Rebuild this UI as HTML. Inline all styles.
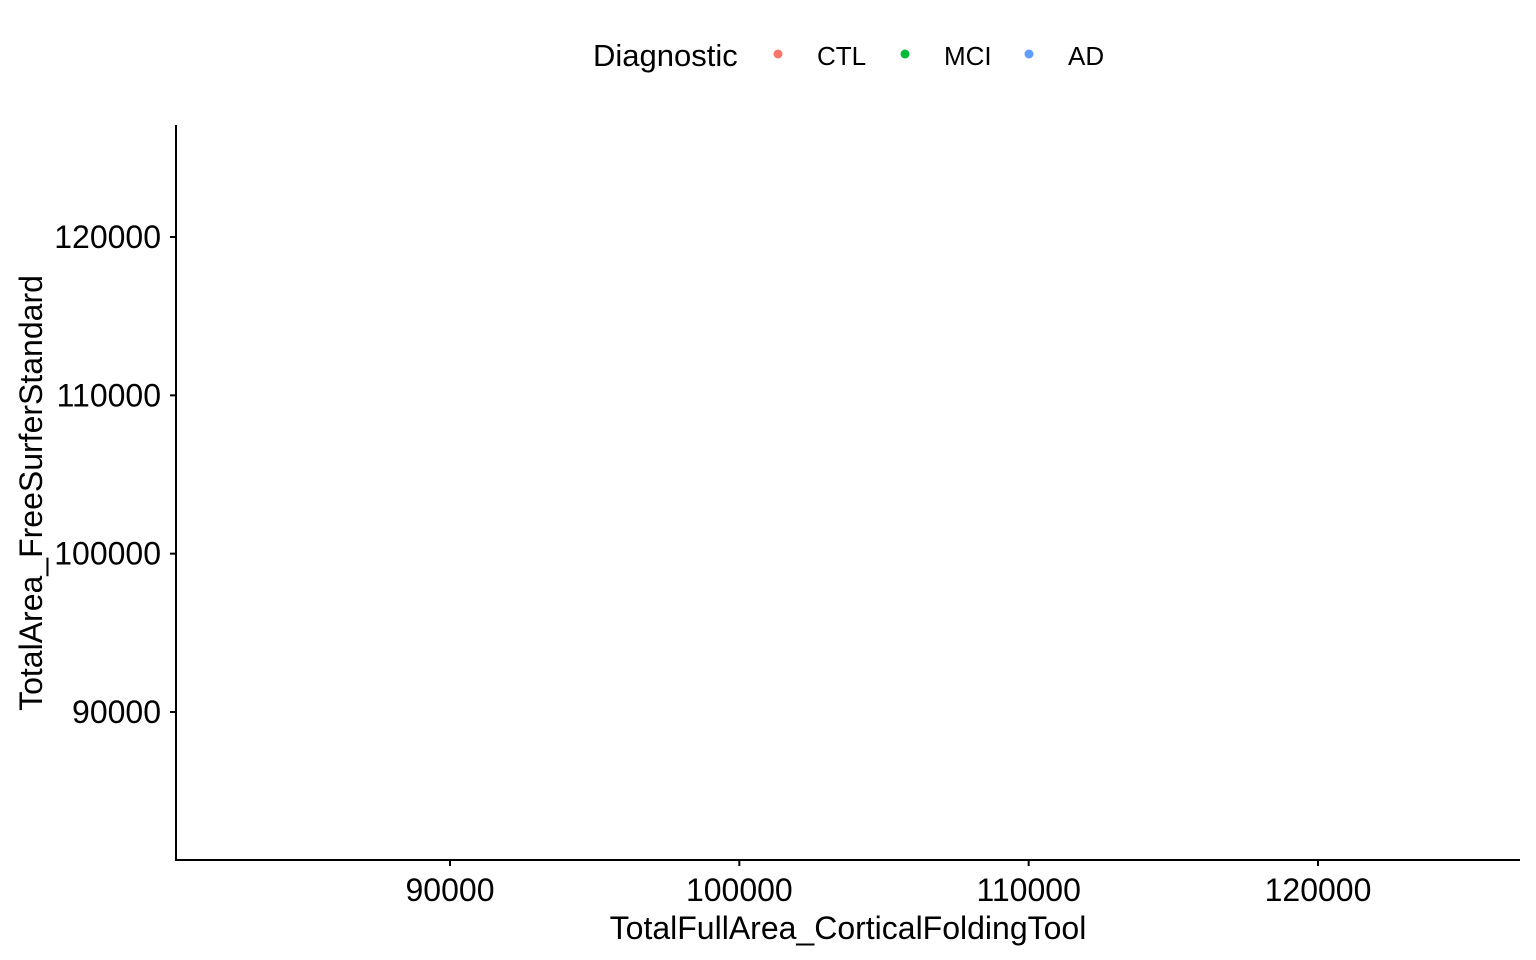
<!DOCTYPE html>
<html><head><meta charset="utf-8">
<style>
html,body{margin:0;padding:0;background:#fff;}
svg{display:block;font-family:"Liberation Sans",Arial,sans-serif;}
</style></head>
<body>
<svg id="chart" width="1536" height="960" viewBox="0 0 1536 960">
  <g>
    <text x="593" y="66" font-size="31" fill="#000">Diagnostic</text>
    <g>
      <circle cx="778" cy="54" r="4.5" fill="#F8766D"/>
      <text x="817" y="65" font-size="26" fill="#000">CTL</text>
    </g>
    <g>
      <circle cx="905" cy="54" r="4.5" fill="#00BA38"/>
      <text x="944" y="65" font-size="26" fill="#000">MCI</text>
    </g>
    <g>
      <circle cx="1029" cy="54" r="4.5" fill="#619CFF"/>
      <text x="1068" y="65" font-size="26" fill="#000">AD</text>
    </g>
  </g>
  <line x1="176" y1="125" x2="176" y2="861" stroke="#000" stroke-width="2"/>
  <line x1="175" y1="860" x2="1520" y2="860" stroke="#000" stroke-width="2"/>
  <g id="xticks"></g>
  <g id="yticks"></g>
  <g id="points"></g>
  <text x="848" y="939" font-size="32" text-anchor="middle" fill="#000">TotalFullArea_CorticalFoldingTool</text>
  <text transform="translate(42,493) rotate(-90)" font-size="32" text-anchor="middle" fill="#000">TotalArea_FreeSurferStandard</text>
</svg>
<script>
const xTicks = [90000, 100000, 110000, 120000];
const yTicks = [90000, 100000, 110000, 120000];
const groups = ["CTL", "MCI", "AD"];
const pointsX = [];
const pointsY = [];
const pointsGroup = [];

const colors = {CTL:"#F8766D", MCI:"#00BA38", AD:"#619CFF"};
function xScale(v){ return 450 + (v - 90000) * (1318 - 450) / 30000; }
function yScale(v){ return 712 - (v - 90000) * (712 - 237) / 30000; }
const NS = "http://www.w3.org/2000/svg";
const xg = document.getElementById("xticks");
xTicks.forEach(t => {
  const x = xScale(t);
  const l = document.createElementNS(NS, "line");
  l.setAttribute("x1", x); l.setAttribute("x2", x);
  l.setAttribute("y1", 860); l.setAttribute("y2", 866);
  l.setAttribute("stroke", "#000"); l.setAttribute("stroke-width", "2");
  
  
  xg.appendChild(l);
  const tx = document.createElementNS(NS, "text");
  tx.setAttribute("x", x); tx.setAttribute("y", 901);
  tx.setAttribute("font-size", "32"); tx.setAttribute("text-anchor", "middle");
  tx.textContent = t;
  
  
  xg.appendChild(tx);
});
const yg = document.getElementById("yticks");
yTicks.forEach(t => {
  const y = yScale(t);
  const l = document.createElementNS(NS, "line");
  l.setAttribute("x1", 170); l.setAttribute("x2", 176);
  l.setAttribute("y1", y); l.setAttribute("y2", y);
  l.setAttribute("stroke", "#000"); l.setAttribute("stroke-width", "2");
  
  
  yg.appendChild(l);
  const tx = document.createElementNS(NS, "text");
  tx.setAttribute("x", 161); tx.setAttribute("y", y + 11);
  tx.setAttribute("font-size", "32"); tx.setAttribute("text-anchor", "end");
  tx.textContent = t;
  
  
  yg.appendChild(tx);
});
const pg = document.getElementById("points");
pointsX.forEach((v, i) => {
  const c = document.createElementNS(NS, "circle");
  c.setAttribute("cx", xScale(v)); c.setAttribute("cy", yScale(pointsY[i]));
  c.setAttribute("r", 4.5); c.setAttribute("fill", colors[pointsGroup[i]] || "#000");
  
  
  pg.appendChild(c);
});
</script>
</body></html>
